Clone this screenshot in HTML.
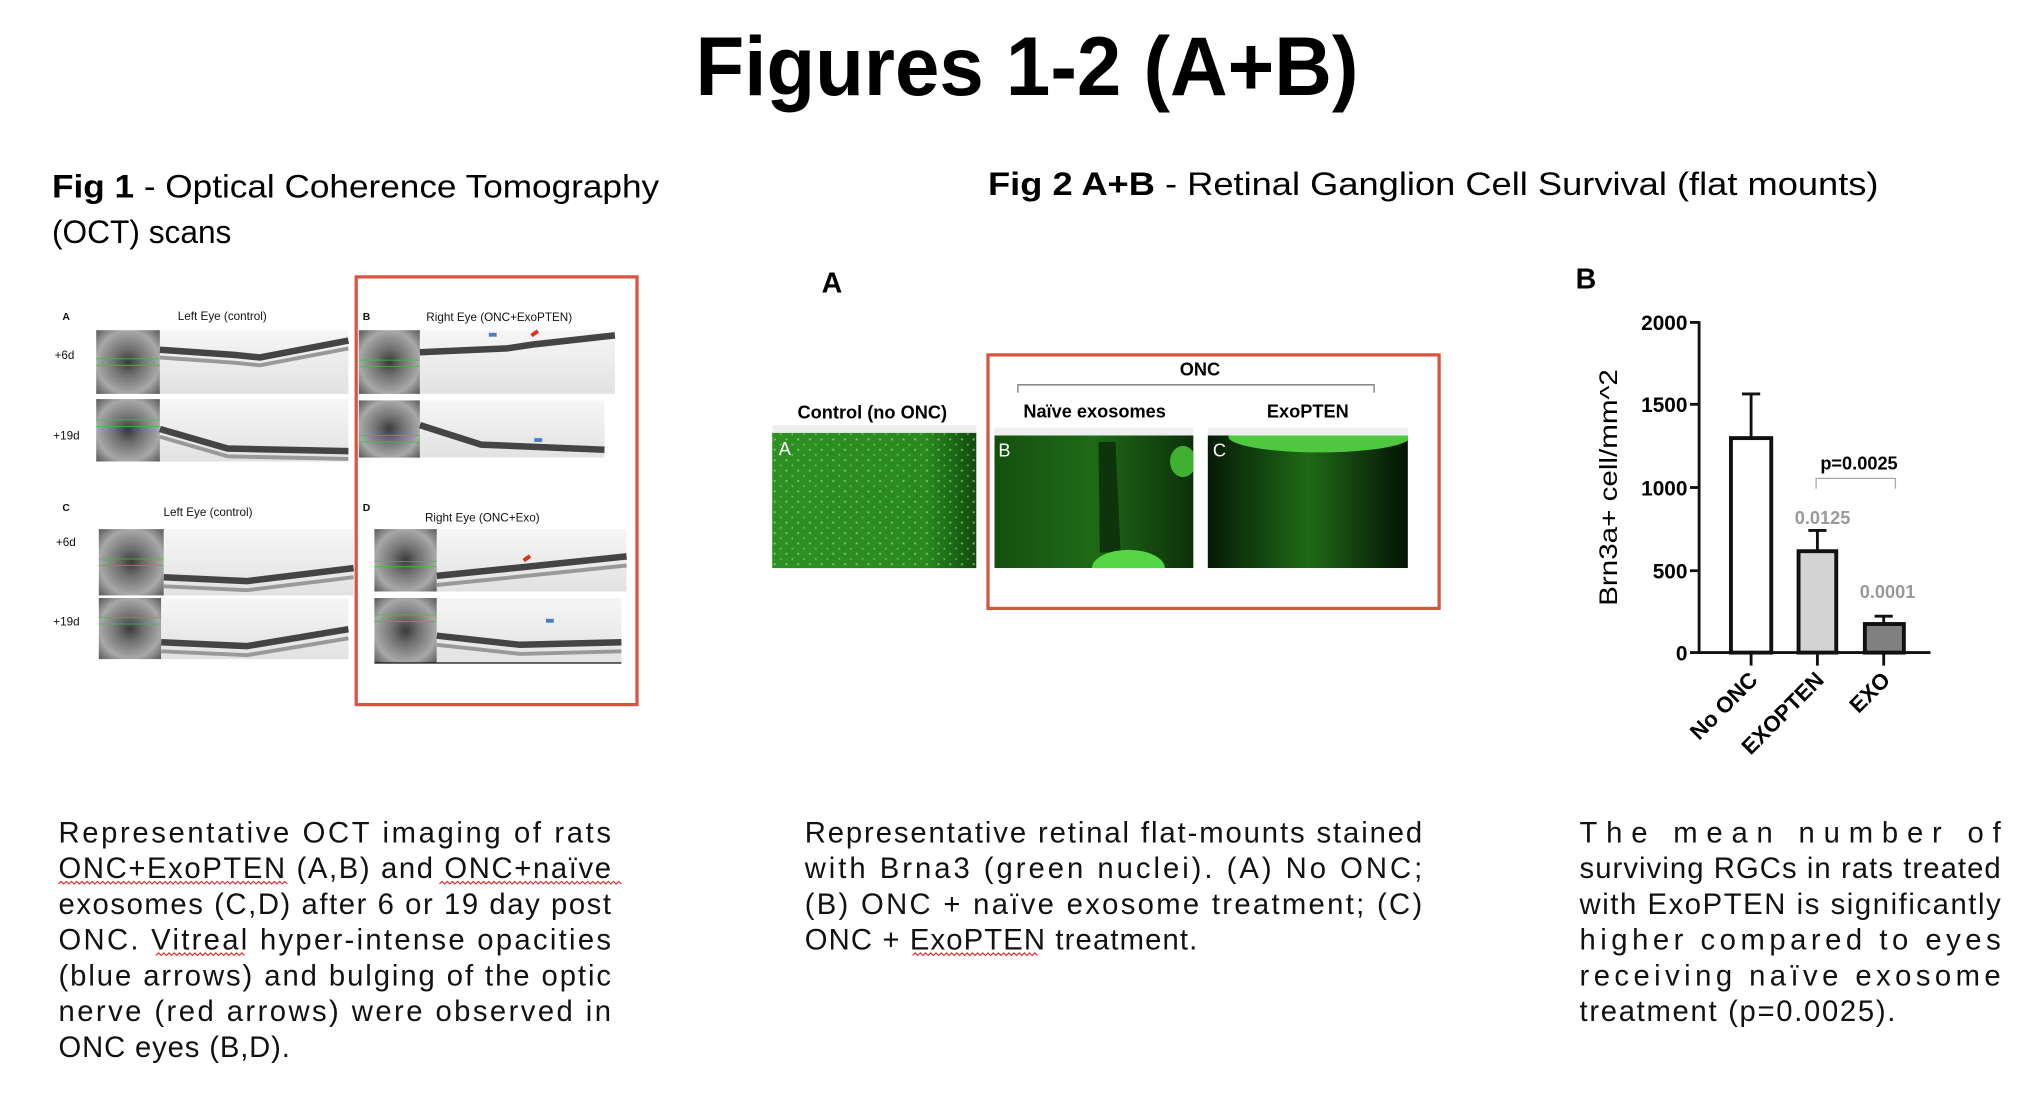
<!DOCTYPE html>
<html><head><meta charset="utf-8"><style>
html,body{margin:0;padding:0;background:#fff;width:2028px;height:1104px;overflow:hidden}
svg{display:block}
text{font-family:"Liberation Sans",sans-serif}
</style></head><body>
<svg width="2028" height="1104" viewBox="0 0 1560 849.23" xmlns="http://www.w3.org/2000/svg">
<defs>
<linearGradient id="scan" x1="0" y1="0" x2="0" y2="1"><stop offset="0" stop-color="#f6f6f6"/><stop offset="1" stop-color="#e2e2e2"/></linearGradient>
<radialGradient id="fund" cx="0.5" cy="0.5" r="0.7"><stop offset="0" stop-color="#3a3a3a"/><stop offset="0.3" stop-color="#707070"/><stop offset="0.7" stop-color="#a8a8a8"/><stop offset="1" stop-color="#5a5a5a"/></radialGradient>
<pattern id="dots" width="9" height="8" patternUnits="userSpaceOnUse"><circle cx="2" cy="2" r="0.9" fill="#8ff27a"/><circle cx="6.5" cy="6" r="0.8" fill="#7de868"/></pattern>
<linearGradient id="gA" x1="0" y1="0" x2="1" y2="0"><stop offset="0" stop-color="#2e8f24"/><stop offset="0.75" stop-color="#2a8a20"/><stop offset="1" stop-color="#124a0e"/></linearGradient>
<linearGradient id="gB" x1="0" y1="0" x2="1" y2="0"><stop offset="0" stop-color="#14500f"/><stop offset="0.5" stop-color="#1f6a17"/><stop offset="1" stop-color="#0c300a"/></linearGradient>
<linearGradient id="gC" x1="0" y1="0" x2="1" y2="0"><stop offset="0" stop-color="#051a04"/><stop offset="0.5" stop-color="#1f6a17"/><stop offset="1" stop-color="#041204"/></linearGradient>
<clipPath id="cC"><rect x="929" y="335" width="154" height="102"/></clipPath>
<clipPath id="cB"><rect x="765" y="335" width="153" height="102"/></clipPath>
</defs>

<text x="535" y="73" font-size="64" font-weight="bold" textLength="510" lengthAdjust="spacingAndGlyphs">Figures 1-2 (A+B)</text>

<text x="40" y="152" font-size="25" textLength="467" lengthAdjust="spacingAndGlyphs"><tspan font-weight="bold">Fig 1</tspan> -  Optical Coherence Tomography</text>
<text x="40" y="187" font-size="25" textLength="138" lengthAdjust="spacingAndGlyphs">(OCT) scans</text>
<text x="760" y="150" font-size="25" textLength="685" lengthAdjust="spacingAndGlyphs"><tspan font-weight="bold">Fig 2 A+B</tspan> -  Retinal Ganglion Cell Survival (flat mounts)</text>

<!-- Fig1 -->
<rect x="274" y="213" width="216" height="329" fill="none" stroke="#d9543f" stroke-width="2.5"/>
<g font-size="9" fill="#111">
<text x="48" y="246" font-weight="bold" font-size="8">A</text>
<text x="171" y="246" text-anchor="middle">Left Eye (control)</text>
<text x="279" y="246" font-weight="bold" font-size="8">B</text>
<text x="384" y="247" text-anchor="middle">Right Eye (ONC+ExoPTEN)</text>
<text x="48" y="393" font-weight="bold" font-size="8">C</text>
<text x="160" y="397" text-anchor="middle">Left Eye (control)</text>
<text x="279" y="393" font-weight="bold" font-size="8">D</text>
<text x="371" y="401" text-anchor="middle">Right Eye (ONC+Exo)</text>
<text x="42" y="276">+6d</text><text x="41" y="338">+19d</text>
<text x="43" y="420">+6d</text><text x="41" y="481">+19d</text>
</g>
<g>
<rect x="74" y="254" width="49" height="49" fill="url(#fund)"/>
<rect x="74" y="307" width="49" height="48" fill="url(#fund)"/>
<rect x="276" y="254" width="47" height="49" fill="url(#fund)"/>
<rect x="276" y="308" width="47" height="44" fill="url(#fund)"/>
<rect x="76" y="407" width="50" height="51" fill="url(#fund)"/>
<rect x="76" y="460" width="48" height="47" fill="url(#fund)"/>
<rect x="288" y="407" width="48" height="48" fill="url(#fund)"/>
<rect x="288" y="460" width="48" height="50" fill="url(#fund)"/>
</g>
<g stroke="#3fbf3f" stroke-width="0.6">
<line x1="74" y1="276" x2="123" y2="276"/><line x1="74" y1="281" x2="123" y2="281"/>
<line x1="74" y1="323" x2="123" y2="323"/><line x1="74" y1="328" x2="123" y2="328"/>
<line x1="276" y1="277" x2="323" y2="277"/><line x1="276" y1="282" x2="323" y2="282"/>
<line x1="276" y1="335" x2="323" y2="335"/><line x1="276" y1="340" x2="323" y2="340"/>
<line x1="76" y1="430" x2="126" y2="430"/><line x1="76" y1="435" x2="126" y2="435"/>
<line x1="76" y1="475" x2="124" y2="475"/><line x1="76" y1="480" x2="124" y2="480"/>
<line x1="288" y1="432" x2="336" y2="432"/><line x1="288" y1="436" x2="336" y2="436"/>
<line x1="288" y1="473" x2="336" y2="473"/><line x1="288" y1="478" x2="336" y2="478"/>
</g>
<g fill="none">
<rect x="123" y="254" width="145" height="49" fill="url(#scan)"/>
<path d="M123 269 L180 273 L200 275 L268 262" stroke="#444" stroke-width="5"/>
<path d="M123 275 L180 279 L200 281 L268 268" stroke="#999" stroke-width="3"/>
<rect x="123" y="307" width="145" height="48" fill="url(#scan)"/>
<path d="M123 330 L175 345 L268 347" stroke="#444" stroke-width="5"/>
<path d="M123 336 L175 351 L268 353" stroke="#999" stroke-width="3"/>
<rect x="323" y="254" width="150" height="49" fill="url(#scan)"/>
<path d="M323 271 L390 268 L410 265 L473 258" stroke="#444" stroke-width="5"/>
<rect x="323" y="308" width="142" height="44" fill="url(#scan)"/>
<path d="M323 327 L370 342 L465 346" stroke="#444" stroke-width="5"/>
<rect x="126" y="407" width="146" height="51" fill="url(#scan)"/>
<path d="M126 444 L190 447 L272 437" stroke="#444" stroke-width="5"/>
<path d="M126 451 L190 454 L272 444" stroke="#999" stroke-width="3"/>
<rect x="124" y="460" width="144" height="47" fill="url(#scan)"/>
<path d="M124 494 L190 497 L268 484" stroke="#444" stroke-width="5"/>
<path d="M124 501 L190 504 L268 491" stroke="#999" stroke-width="3"/>
<rect x="336" y="407" width="146" height="48" fill="url(#scan)"/>
<path d="M336 443 L395 437 L482 428" stroke="#444" stroke-width="5"/>
<path d="M336 450 L395 444 L482 435" stroke="#999" stroke-width="3"/>
<rect x="336" y="460" width="142" height="50" fill="url(#scan)"/>
<path d="M336 489 L400 496 L478 494" stroke="#444" stroke-width="5"/>
<path d="M336 496 L400 503 L478 501" stroke="#999" stroke-width="3"/>
<line x1="288" y1="510" x2="478" y2="510" stroke="#111" stroke-width="1"/>
</g>
<g fill="#4a7fc8"><rect x="376" y="256" width="6" height="3"/><rect x="411" y="337" width="6" height="3"/><rect x="420" y="476" width="6" height="3"/></g>
<g fill="#e0301e"><rect x="408" y="255" width="6" height="3" transform="rotate(-35 411 256)"/><rect x="402" y="428" width="6" height="3" transform="rotate(-35 405 429)"/></g>

<!-- Fig2 A -->
<text x="632" y="225" font-size="22" font-weight="bold">A</text>
<rect x="760" y="273" width="347" height="195" fill="none" stroke="#d9543f" stroke-width="2.5"/>
<text x="923" y="289" font-size="14" font-weight="bold" text-anchor="middle">ONC</text>
<path d="M783 302 V296 H1057 V302" fill="none" stroke="#777" stroke-width="1"/>
<text x="671" y="322" font-size="14" font-weight="bold" text-anchor="middle">Control (no ONC)</text>
<text x="842" y="321" font-size="14" font-weight="bold" text-anchor="middle">Naïve exosomes</text>
<text x="1006" y="321" font-size="14" font-weight="bold" text-anchor="middle">ExoPTEN</text>
<rect x="594" y="327" width="157" height="6" fill="#eee"/>
<rect x="765" y="329" width="153" height="6" fill="#eee"/>
<rect x="929" y="329" width="154" height="6" fill="#eee"/>
<rect x="594" y="333" width="157" height="104" fill="url(#gA)"/>
<rect x="594" y="333" width="157" height="104" fill="url(#dots)" opacity="0.6"/>
<g clip-path="url(#cB)">
<rect x="765" y="335" width="153" height="102" fill="url(#gB)"/>
<path d="M845 340 L858 340 L862 425 L846 425 Z" fill="#0c300a" opacity="0.9"/>
<ellipse cx="868" cy="437" rx="28" ry="14" fill="#56d645"/>
<ellipse cx="910" cy="355" rx="10" ry="12" fill="#3fb032"/>
</g>
<g clip-path="url(#cC)">
<rect x="929" y="335" width="154" height="102" fill="url(#gC)"/>
<ellipse cx="1015" cy="336" rx="70" ry="12" fill="#4fc83f"/>
</g>
<g fill="#fff" font-size="14"><text x="599" y="350">A</text><text x="768" y="351">B</text><text x="933" y="351">C</text></g>

<!-- Chart B -->
<text x="1212" y="222" font-size="22" font-weight="bold">B</text>
<g font-size="16" font-weight="bold" text-anchor="end">
<text x="1298" y="254">2000</text><text x="1298" y="317">1500</text><text x="1298" y="381">1000</text><text x="1298" y="445">500</text><text x="1298" y="508">0</text>
</g>
<g stroke="#111" stroke-width="2.2" fill="none">
<line x1="1307" y1="247" x2="1307" y2="502"/>
<line x1="1300" y1="502" x2="1485" y2="502"/>
<line x1="1300" y1="248" x2="1307" y2="248"/><line x1="1300" y1="311" x2="1307" y2="311"/><line x1="1300" y1="375" x2="1307" y2="375"/><line x1="1300" y1="439" x2="1307" y2="439"/>
<line x1="1347" y1="502" x2="1347" y2="512"/><line x1="1398" y1="502" x2="1398" y2="512"/><line x1="1449" y1="502" x2="1449" y2="512"/>
<line x1="1347" y1="337" x2="1347" y2="303"/><line x1="1340" y1="303" x2="1354" y2="303"/>
<line x1="1398" y1="424" x2="1398" y2="408"/><line x1="1391" y1="408" x2="1405" y2="408"/>
<line x1="1449" y1="480" x2="1449" y2="474"/><line x1="1442" y1="474" x2="1456" y2="474"/>
</g>
<rect x="1331.5" y="337" width="31" height="165" fill="#fff" stroke="#111" stroke-width="3"/>
<rect x="1383.5" y="424" width="29" height="78" fill="#d3d3d3" stroke="#111" stroke-width="3"/>
<rect x="1434.5" y="480" width="30" height="22" fill="#808080" stroke="#111" stroke-width="3"/>
<path d="M1397 376 V368 H1458 V376" fill="none" stroke="#aaa" stroke-width="1"/>
<text x="1430" y="361" font-size="14" font-weight="bold" text-anchor="middle">p=0.0025</text>
<text x="1402" y="403" font-size="14" font-weight="bold" fill="#999" text-anchor="middle">0.0125</text>
<text x="1452" y="460" font-size="14" font-weight="bold" fill="#999" text-anchor="middle">0.0001</text>
<text transform="translate(1244 375) rotate(-90)" font-size="19" text-anchor="middle" textLength="182" lengthAdjust="spacingAndGlyphs">Brn3a+ cell/mm^2</text>
<g font-size="17" font-weight="bold" text-anchor="end">
<text transform="translate(1353 524) rotate(-45)">No ONC</text>
<text transform="translate(1404 524) rotate(-45)">EXOPTEN</text>
<text transform="translate(1455 524) rotate(-45)">EXO</text>
</g>

<!-- captions -->
<g font-size="22.5" fill="#111">
<text x="45" y="648" textLength="425" lengthAdjust="spacing">Representative OCT imaging of rats</text>
<text x="45" y="675.5" textLength="425" lengthAdjust="spacing">ONC+ExoPTEN (A,B) and ONC+naïve</text>
<text x="45" y="703" textLength="425" lengthAdjust="spacing">exosomes (C,D) after 6 or 19 day post</text>
<text x="45" y="730.5" textLength="425" lengthAdjust="spacing">ONC. Vitreal hyper-intense opacities</text>
<text x="45" y="758" textLength="425" lengthAdjust="spacing">(blue arrows) and bulging of the optic</text>
<text x="45" y="785.5" textLength="425" lengthAdjust="spacing">nerve (red arrows) were observed in</text>
<text x="45" y="813" textLength="178" lengthAdjust="spacing">ONC eyes (B,D).</text>

<text x="619" y="648" textLength="475" lengthAdjust="spacing">Representative retinal flat-mounts stained</text>
<text x="619" y="675.5" textLength="475" lengthAdjust="spacing">with Brna3 (green nuclei). (A)  No ONC;</text>
<text x="619" y="703" textLength="475" lengthAdjust="spacing">(B) ONC + naïve exosome treatment; (C)</text>
<text x="619" y="730.5" textLength="302" lengthAdjust="spacing">ONC + ExoPTEN treatment.</text>

<text x="1215" y="648" textLength="324" lengthAdjust="spacing">The mean number of</text>
<text x="1215" y="675.5" textLength="324" lengthAdjust="spacing">surviving RGCs in rats treated</text>
<text x="1215" y="703" textLength="324" lengthAdjust="spacing">with ExoPTEN is significantly</text>
<text x="1215" y="730.5" textLength="324" lengthAdjust="spacing">higher compared to eyes</text>
<text x="1215" y="758" textLength="324" lengthAdjust="spacing">receiving naïve exosome</text>
<text x="1215" y="785.5" textLength="243" lengthAdjust="spacing">treatment (p=0.0025).</text>
</g>
<g stroke="#e02020" stroke-width="0.8" fill="none">
<path d="M45 680 l2 -2 l2 2 l2 -2 l2 2 l2 -2 l2 2 l2 -2 l2 2 l2 -2 l2 2 l2 -2 l2 2 l2 -2 l2 2 l2 -2 l2 2 l2 -2 l2 2 l2 -2 l2 2 l2 -2 l2 2 l2 -2 l2 2 l2 -2 l2 2 l2 -2 l2 2 l2 -2 l2 2 l2 -2 l2 2 l2 -2 l2 2 l2 -2 l2 2 l2 -2 l2 2 l2 -2 l2 2 l2 -2 l2 2 l2 -2 l2 2 l2 -2 l2 2 l2 -2 l2 2 l2 -2 l2 2 l2 -2 l2 2 l2 -2 l2 2 l2 -2 l2 2 l2 -2 l2 2 l2 -2 l2 2 l2 -2 l2 2 l2 -2 l2 2 l2 -2 l2 2 l2 -2 l2 2 l2 -2 l2 2 l2 -2 l2 2 l2 -2 l2 2 l2 -2 l2 2 l2 -2 l2 2 l2 -2 l2 2 l2 -2 l2 2 l2 -2 l2 2 l2 -2 l2 2 l2 -2 l2 2"/>
<path d="M338 680 l2 -2 l2 2 l2 -2 l2 2 l2 -2 l2 2 l2 -2 l2 2 l2 -2 l2 2 l2 -2 l2 2 l2 -2 l2 2 l2 -2 l2 2 l2 -2 l2 2 l2 -2 l2 2 l2 -2 l2 2 l2 -2 l2 2 l2 -2 l2 2 l2 -2 l2 2 l2 -2 l2 2 l2 -2 l2 2 l2 -2 l2 2 l2 -2 l2 2 l2 -2 l2 2 l2 -2 l2 2 l2 -2 l2 2 l2 -2 l2 2 l2 -2 l2 2 l2 -2 l2 2 l2 -2 l2 2 l2 -2 l2 2 l2 -2 l2 2 l2 -2 l2 2 l2 -2 l2 2 l2 -2 l2 2 l2 -2 l2 2 l2 -2 l2 2 l2 -2 l2 2 l2 -2 l2 2 l2 -2 l2 2"/>
<path d="M120 735 l2 -2 l2 2 l2 -2 l2 2 l2 -2 l2 2 l2 -2 l2 2 l2 -2 l2 2 l2 -2 l2 2 l2 -2 l2 2 l2 -2 l2 2 l2 -2 l2 2 l2 -2 l2 2 l2 -2 l2 2 l2 -2 l2 2 l2 -2 l2 2 l2 -2 l2 2 l2 -2 l2 2 l2 -2 l2 2 l2 -2 l2 2"/>
<path d="M702 735 l2 -2 l2 2 l2 -2 l2 2 l2 -2 l2 2 l2 -2 l2 2 l2 -2 l2 2 l2 -2 l2 2 l2 -2 l2 2 l2 -2 l2 2 l2 -2 l2 2 l2 -2 l2 2 l2 -2 l2 2 l2 -2 l2 2 l2 -2 l2 2 l2 -2 l2 2 l2 -2 l2 2 l2 -2 l2 2 l2 -2 l2 2 l2 -2 l2 2 l2 -2 l2 2 l2 -2 l2 2 l2 -2 l2 2 l2 -2 l2 2 l2 -2 l2 2 l2 -2 l2 2"/>
</g>
</svg>
</body></html>
